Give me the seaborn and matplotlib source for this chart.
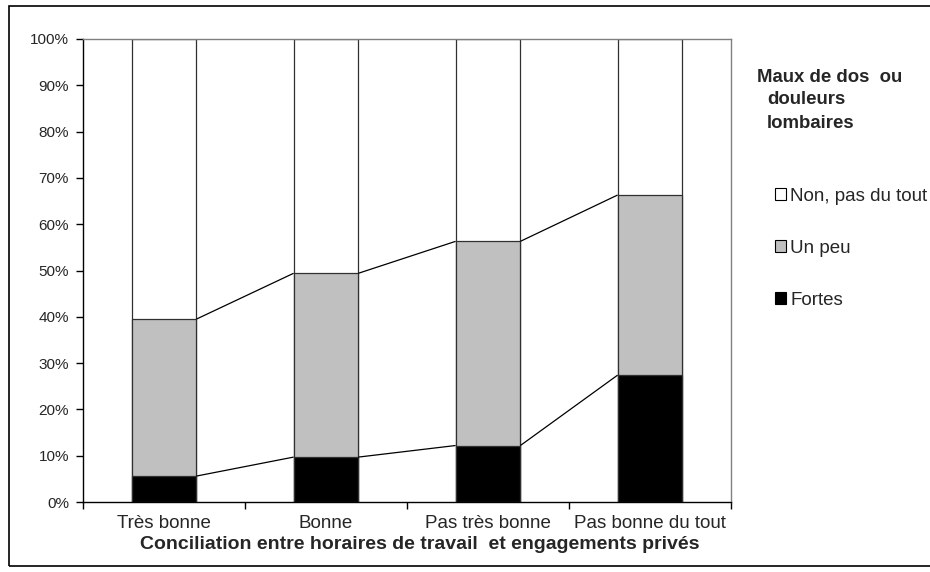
import matplotlib
matplotlib.use("Agg")
import matplotlib.pyplot as plt
from matplotlib.patches import Patch, Rectangle
from matplotlib.ticker import FixedLocator, PercentFormatter
import numpy as np
import pandas as pd
import seaborn as sns

# Share of each answer (percent) per level of work/private-life balance
categories = ["Très bonne", "Bonne", "Pas très bonne", "Pas bonne du tout"]
fortes = [5.6, 9.7, 12.2, 27.4]
un_peu = [33.9, 39.7, 44.1, 38.9]
non_pas_du_tout = [100 - f - u for f, u in zip(fortes, un_peu)]

series_labels = ["Non, pas du tout", "Un peu", "Fortes"]
series_colors = ["#ffffff", "#c0c0c0", "#000000"]
y_ticks = list(range(0, 101, 10))

sns.set_style("ticks")
plt.rcParams["font.family"] = ["Liberation Sans", "DejaVu Sans"]

df = pd.DataFrame({
    "categorie": categories,
    "fortes": fortes,
    "un_peu": un_peu,
    "non": non_pas_du_tout,
})
df["cum_fortes"] = df["fortes"]
df["cum_un_peu"] = df["fortes"] + df["un_peu"]
df["cum_total"] = df["cum_un_peu"] + df["non"]

W, H = 930, 572
fig = plt.figure(figsize=(W / 100, H / 100), dpi=100)
ax = fig.add_axes([83 / W, 70 / H, 648 / W, 463 / H])

bar_w = 0.4
edge = "#303030"
# stacked bars drawn as overlapping cumulative totals, tallest first
for col, color in zip(["cum_total", "cum_un_peu", "cum_fortes"], series_colors):
    sns.barplot(data=df, x="categorie", y=col, color=color, edgecolor=edge,
                linewidth=0.9, width=bar_w, saturation=1, ax=ax, errorbar=None)

# series lines joining the tops of the lower two segments
n = len(categories)
for col in ["cum_fortes", "cum_un_peu"]:
    vals = df[col].to_numpy()
    for i in range(n - 1):
        x0 = i + bar_w / 2
        x1 = i + 1 - bar_w / 2
        ax.plot([x0, x1], [vals[i], vals[i + 1]], color="black", lw=0.9,
                solid_capstyle="butt", zorder=3)

ax.set_xlim(-0.5, n - 0.5)
ax.set_ylim(0, 100)
ax.yaxis.set_major_locator(FixedLocator(y_ticks))
ax.yaxis.set_major_formatter(PercentFormatter(100, decimals=0))
ax.tick_params(axis="y", length=5, width=1, color="black", labelsize=11, pad=5)
ax.set_xticks(range(n))
ax.set_xticklabels(categories)
ax.tick_params(axis="x", which="major", length=0, labelsize=13.5, pad=9)
ax.xaxis.set_minor_locator(FixedLocator(np.arange(-0.5, n, 1.0)))
ax.tick_params(axis="x", which="minor", length=5, width=1, color="black")
ax.set_ylabel("")
ax.set_xlabel("Conciliation entre horaires de travail  et engagements privés",
              fontsize=14, fontweight="bold", labelpad=3, x=0.52)

for side in ["left", "bottom"]:
    ax.spines[side].set_color("black")
    ax.spines[side].set_linewidth(1)
for side in ["top", "right"]:
    ax.spines[side].set_visible(True)
    ax.spines[side].set_color("#808080")
    ax.spines[side].set_linewidth(1)

# legend
handles = [Patch(facecolor=c, edgecolor="black", linewidth=0.8) for c in series_colors]
fig.legend(handles, series_labels, loc="upper left",
           bbox_to_anchor=(775 / W, 1 - 188 / H), frameon=False,
           fontsize=13.5, borderpad=0, borderaxespad=0, handlelength=0.6,
           handleheight=0.6, handletextpad=0.2, labelspacing=1.86)

fig.text(757 / W, 1 - 78 / H, "Maux de dos  ou", fontsize=13.4,
         fontweight="bold", va="center", ha="left")
fig.text(767 / W, 1 - 99 / H, "douleurs", fontsize=13.4,
         fontweight="bold", va="center", ha="left")
fig.text(767 / W, 1 - 124 / H, "lombaires", fontsize=13.4,
         fontweight="bold", va="center", ha="left")

# outer chart border
fig.add_artist(Rectangle((9 / W, 6 / H), 930 / W, 560 / H, transform=fig.transFigure,
                         fill=False, edgecolor="black", linewidth=1.2))

fig.savefig("out.png", dpi=100, facecolor="white")
